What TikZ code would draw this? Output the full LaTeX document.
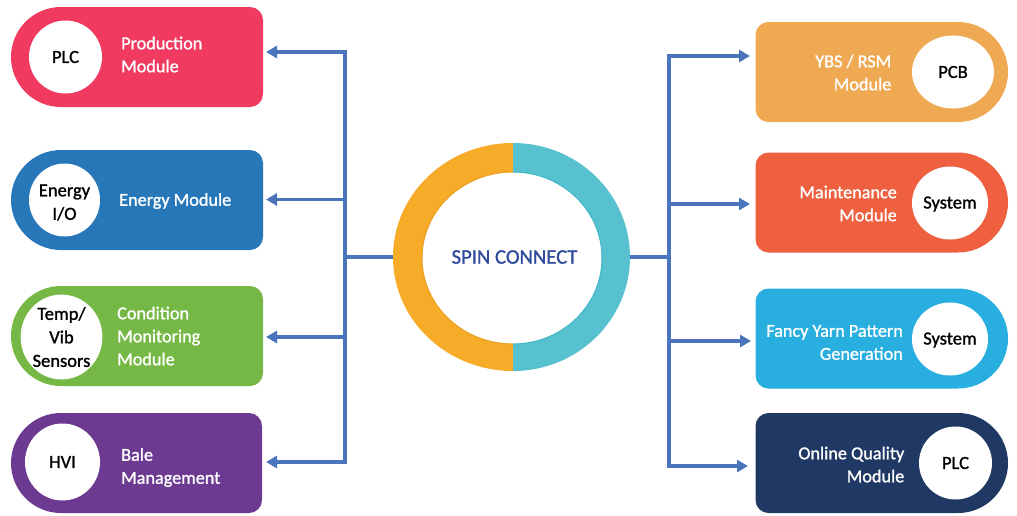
\documentclass[tikz,border=0pt]{standalone}
\usepackage{fontspec}
\setmainfont[FakeBold=1.2]{Carlito}
\usetikzlibrary{arrows.meta,shapes.geometric}
\definecolor{cRed}{HTML}{F03A5F}
\definecolor{cBlue}{HTML}{2878B9}
\definecolor{cGreen}{HTML}{76B845}
\definecolor{cPurple}{HTML}{6C3A91}
\definecolor{cOrange}{HTML}{EFA953}
\definecolor{cCoral}{HTML}{EE6040}
\definecolor{cSky}{HTML}{29AEE0}
\definecolor{cNavy}{HTML}{1F3864}
\definecolor{cRingL}{HTML}{F6AC29}
\definecolor{cRingR}{HTML}{58C1D0}
\definecolor{cRingLd}{HTML}{EBA024}
\definecolor{cRingRd}{HTML}{3FB8C6}
\definecolor{cLink}{HTML}{4A74BC}
\definecolor{cTitle}{HTML}{2F4B9B}
\tikzset{
  disc/.style={ellipse,fill=white,inner sep=0pt,text=black,align=center,font=\fontsize{18.5}{23.5}\selectfont},
  disctext/.style={inner sep=0pt,text=black,align=center,font=\fontsize{18.5}{23.5}\selectfont},
  lab/.style={text=white,inner sep=0pt,font=\fontsize{18.2}{23}\selectfont},
  labl/.style={lab,anchor=west,align=left},
  labr/.style={lab,anchor=east,align=right},
  link/.style={draw=cLink,line width=3.5pt,line join=miter},
  tip/.style={{Triangle[length=11pt,width=12pt]}-{Triangle[length=11pt,width=12pt]}},
  onetip/.style={-{Triangle[length=11pt,width=12pt]}},
  anchorbox/.style={inner sep=0pt,minimum width=252pt,minimum height=100pt}
}
% name, colour, left x, top y, width
\newcommand{\pillleft}[5]{%
  \fill[#2] (#3+#5-13,#4) -- (#3+50,#4) arc[start angle=90,end angle=270,radius=50pt]
    -- (#3+#5-13,#4+100) arc[start angle=-90,end angle=0,radius=13pt]
    -- (#3+#5,#4+13) arc[start angle=0,end angle=90,radius=13pt] -- cycle;
  \node[anchorbox] (#1) at (#3+126,#4+50) {};}
\newcommand{\pillright}[5]{%
  \fill[#2] (#3+13,#4) -- (#3+#5-50,#4) arc[start angle=90,end angle=-90,radius=50pt]
    -- (#3+13,#4+100) arc[start angle=270,end angle=180,radius=13pt]
    -- (#3,#4+13) arc[start angle=180,end angle=90,radius=13pt] -- cycle;
  \node[anchorbox] (#1) at (#3+126,#4+50) {};}
\begin{document}
\begin{tikzpicture}[x=1pt,y=-1pt]
\useasboundingbox (0,0) rectangle (1017,515);

% pills
\pillleft{pa}{cRed}{11}{7}{252}
\pillleft{pb}{cBlue}{11}{150}{252}
\pillleft{pc}{cGreen}{11}{286}{252}
\pillleft{pd}{cPurple}{11}{413}{251}
\pillright{qa}{cOrange}{755.5}{22}{252.5}
\pillright{qb}{cCoral}{755.5}{152.5}{252.5}
\pillright{qc}{cSky}{755.5}{288.5}{252.5}
\pillright{qd}{cNavy}{755.5}{413}{252.5}

% discs
\node[disc,minimum width=73pt,minimum height=73pt] (da) at (65.5,57) {PLC};
\node[disc,minimum width=71pt,minimum height=73pt,label={[disctext,yshift=-2.5pt]center:{Energy\\I/O}}] (db) at (64.5,200) {};
\node[disc,minimum width=77pt,minimum height=77pt] (dc) at (61.5,337) {Temp/\\Vib\\Sensors};
\node[disc,minimum width=75pt,minimum height=77pt] (dd) at (62.5,462) {HVI};
\node[disc,minimum width=82pt,minimum height=73pt] (ea) at (953,72) {PCB};
\node[disc,minimum width=76pt,minimum height=73pt,label={[disctext,yshift=-1pt]center:System}] (eb) at (950,203) {};
\node[disc,minimum width=76pt,minimum height=73pt,label={[disctext,yshift=-1pt]center:System}] (ec) at (950,339) {};
\node[disc,minimum width=73pt,minimum height=73pt] (ed) at (955.5,463) {PLC};

% labels
\node[labl] (la) at (121,54.5) {Production\\Module};
\node[labl] (lb) at (119,201) {Energy Module};
\node[labl] (lc) at (117,336) {Condition\\Monitoring\\Module};
\node[labl] (ld) at (121,467.5) {Bale\\Management};
\node[labr] (ma) at (891.5,72.5) {YBS / RSM\\Module};
\node[labr] (mb) at (897,203.5) {Maintenance\\Module};
\node[labr] (mc) at (903,342.5) {Fancy Yarn Pattern\\Generation};
\node[labr] (md) at (904.5,464.5) {Online Quality\\Module};

% ring
\fill[cRingL] (513,143) arc[start angle=90,end angle=270,x radius=120pt,y radius=114pt]
  -- (513,344) arc[start angle=270,end angle=90,x radius=91pt,y radius=86pt] -- cycle;
\fill[cRingR] (513,143) arc[start angle=90,end angle=-90,x radius=117pt,y radius=114pt]
  -- (513,344) arc[start angle=-90,end angle=90,x radius=89pt,y radius=86pt] -- cycle;
\draw[cRingLd,line width=1pt] (513,344) arc[start angle=270,end angle=90,x radius=91pt,y radius=86pt];
\draw[cRingRd,line width=1pt] (513,344) arc[start angle=-90,end angle=90,x radius=89pt,y radius=86pt];
\node[ellipse,inner sep=0pt,minimum width=237pt,minimum height=228pt] (ring) at (511.5,257) {};
\node[text=cTitle,inner sep=0pt,font=\fontsize{20.7}{23}\selectfont] (title) at (514.5,257) {SPIN CONNECT};

% connector points
\coordinate (ta) at (266,52);
\coordinate (tb) at (266,199.5);
\coordinate (tc) at (266,337);
\coordinate (td) at (266,462);
\coordinate (ja) at (345,52);
\coordinate (jb) at (345,199.5);
\coordinate (jc) at (345,337);
\coordinate (jd) at (345,462);
\coordinate (jm) at (345,257);
\coordinate (ua) at (750,56);
\coordinate (ub) at (750,204);
\coordinate (uc) at (751,341);
\coordinate (ud) at (748,466);
\coordinate (ka) at (669,56);
\coordinate (kb) at (669,204);
\coordinate (kc) at (669,341);
\coordinate (kd) at (669,466);
\coordinate (km) at (669,257);

% connectors
\draw[link,tip] (ta) -- (ja) -- (jd) -- (td);
\draw[link,onetip] (jb) -- (tb);
\draw[link,onetip] (jc) -- (tc);
\draw[link] (ring.west) -- (jm);
\draw[link,tip] (ua) -- (ka) -- (kd) -- (ud);
\draw[link,onetip] (kb) -- (ub);
\draw[link,onetip] (kc) -- (uc);
\draw[link] (ring.east) -- (km);
\end{tikzpicture}
\end{document}
